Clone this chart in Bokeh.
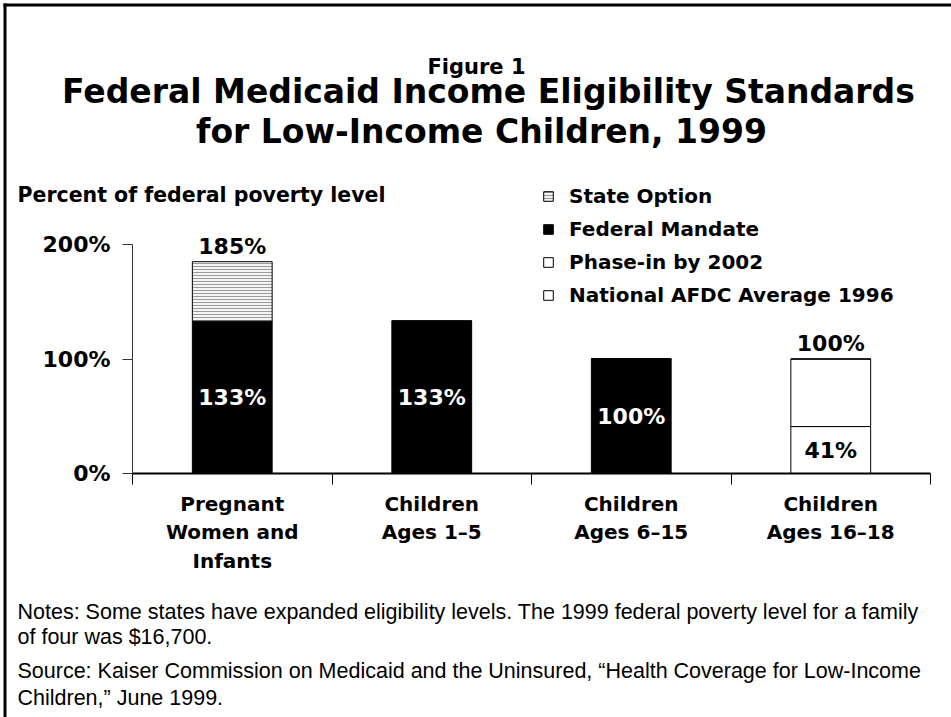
from bokeh.plotting import figure
from bokeh.models import (ColumnDataSource, FixedTicker, Label, LabelSet, Legend,
                          LegendItem, BoxAnnotation, Range1d)
from bokeh.core.properties import value
from bokeh.embed import file_html
from bokeh.resources import INLINE

# ---------------- data ----------------
categories = ["Pregnant\nWomen and\nInfants", "Children\nAges 1–5",
              "Children\nAges 6–15", "Children\nAges 16–18"]
federal_mandate = [133, 133, 100, 0]
afdc_average_1996 = [0, 0, 0, 41]
phase_in_2002 = [0, 0, 0, 59]
state_option = [52, 0, 0, 0]
inner_labels = ["133%", "133%", "100%", "41%"]
top_labels = ["185%", "", "", "100%"]
y_ticks = [0, 100, 200]
y_tick_labels = ["0%", "100%", "200%"]

title_small = "Figure 1"
title_lines = ["Federal Medicaid Income Eligibility Standards",
               "for Low-Income Children, 1999"]
y_caption = "Percent of federal poverty level"
notes = ["Notes: Some states have expanded eligibility levels. The 1999 federal poverty level for a family",
         "of four was $16,700.",
         "Source: Kaiser Commission on Medicaid and the Uninsured, \u201cHealth Coverage for Low-Income",
         "Children,\u201d June 1999."]

# ---------------- layout ----------------
W, H = 951, 717
AX_L, AX_R, AX_T, AX_B = 132, 930, 244, 473   # data area edges in canvas pixels
BOLD = "DejaVu Sans"
REG = "Liberation Sans"

n = len(categories)
y_max = 200
ppx = (AX_R - AX_L) / n
ppy = (AX_B - AX_T) / y_max
x_range = Range1d(-AX_L / ppx, n + (W - AX_R) / ppx)
y_range = Range1d(-(H - AX_B) / ppy, y_max + AX_T / ppy)

def sx(cx):
    return cx

def sy(cy):
    return H - cy

centers = [i + 0.5 for i in range(n)]

src = ColumnDataSource(dict(
    x=centers,
    federal_mandate=federal_mandate,
    afdc_average_1996=afdc_average_1996,
    phase_in_2002=phase_in_2002,
    state_option=state_option,
))

p = figure(width=W, height=H, output_backend="svg", toolbar_location=None,
           x_range=x_range, y_range=y_range, min_border=0)
p.outline_line_color = None
p.xgrid.visible = False
p.ygrid.visible = False
p.background_fill_color = "white"
p.border_fill_color = "white"

stack = ["federal_mandate", "afdc_average_1996", "phase_in_2002", "state_option"]
fills = ["black", "white", "white", "white"]
rs = p.vbar_stack(stack, x="x", width=0.4, source=src, color=fills,
                  line_color="black", line_width=1)
rs[3].glyph.hatch_pattern = "horizontal_line"
rs[3].glyph.hatch_color = "#9a9a9a"
rs[3].glyph.hatch_scale = 3
rs[3].glyph.hatch_weight = 1
rs[3].glyph.fill_color = "#f4f4f4"

# value labels
bottom_seg = [m + a for m, a in zip(federal_mandate, afdc_average_1996)]
totals = [m + a + ph + s for m, a, ph, s in zip(federal_mandate, afdc_average_1996,
                                                phase_in_2002, state_option)]
inner_src = ColumnDataSource(dict(
    x=centers, y=[b / 2 for b in bottom_seg], text=inner_labels,
    color=["white" if m > 0 else "black" for m in federal_mandate]))
p.add_layout(LabelSet(x="x", y="y", text="text", text_color="color", source=inner_src,
                      text_align="center", text_baseline="middle",
                      text_font=value(BOLD), text_font_style="bold",
                      text_font_size="22px"))
top_src = ColumnDataSource(dict(x=centers, y=totals, text=top_labels))
p.add_layout(LabelSet(x="x", y="y", text="text", source=top_src, y_offset=3,
                      text_align="center", text_baseline="bottom", text_color="black",
                      text_font=value(BOLD), text_font_style="bold",
                      text_font_size="22px"))

# axes
ya = p.yaxis[0]
ya.fixed_location = 0
ya.bounds = (0, y_max)
ya.ticker = FixedTicker(ticks=y_ticks)
ya.major_label_overrides = dict(zip(y_ticks, y_tick_labels))
ya.axis_line_color = "#333333"
ya.axis_line_width = 1
ya.major_tick_in = 0
ya.major_tick_out = 10
ya.major_tick_line_color = "#333333"
ya.minor_tick_line_color = None
ya.major_label_standoff = 12
ya.major_label_text_font = BOLD
ya.major_label_text_font_style = "bold"
ya.major_label_text_font_size = "22px"
ya.major_label_text_color = "black"

xa = p.xaxis[0]
xa.fixed_location = 0
xa.bounds = (0, n)
xa.ticker = FixedTicker(ticks=centers, minor_ticks=list(range(n + 1)))
xa.major_label_overrides = dict(zip(centers, categories))
xa.axis_line_color = "black"
xa.axis_line_width = 2
xa.major_tick_line_color = None
xa.major_tick_in = 0
xa.major_tick_out = 0
xa.minor_tick_in = 0
xa.minor_tick_out = 11
xa.minor_tick_line_color = "black"
xa.minor_tick_line_width = 1
xa.major_label_standoff = 7
xa.major_label_text_font = BOLD
xa.major_label_text_font_style = "bold"
xa.major_label_text_font_size = "20px"
xa.major_label_text_line_height = 1.2
xa.major_label_text_color = "black"

# legend
legend_names = {"state_option": "State Option", "federal_mandate": "Federal Mandate",
                "phase_in_2002": "Phase-in by 2002", "afdc_average_1996": "National AFDC Average 1996"}
order = ["state_option", "federal_mandate", "phase_in_2002", "afdc_average_1996"]
items = [LegendItem(label=legend_names[k], renderers=[rs[stack.index(k)]]) for k in order]
legend = Legend(items=items, location=(sx(542), sy(307)), orientation="vertical",
                glyph_width=12, glyph_height=12, label_standoff=15, spacing=9,
                label_height=24, padding=0, margin=0, border_line_color=None,
                background_fill_alpha=0,
                label_text_font=BOLD, label_text_font_style="bold",
                label_text_font_size="20px", label_text_color="black")
p.add_layout(legend, "center")

# header texts
def add_label(text, cx, cy, size, font=BOLD, style="bold", align="left"):
    p.add_layout(Label(x=sx(cx), y=sy(cy), x_units="screen", y_units="screen",
                       text=text, text_font=font, text_font_style=style,
                       text_font_size=size, text_align=align, text_baseline="middle",
                       text_color="black"))

add_label(title_small, 476, 66, "21px", align="center")
add_label(title_lines[0], 488, 91, "33px", align="center")
add_label(title_lines[1], 481, 131, "33px", align="center")
add_label(y_caption, 17, 194, "20.5px")
for txt, cy in zip(notes, [611, 636, 670, 697]):
    add_label(txt, 17, cy, "21.5px", font=REG, style="normal")

# outer frame lines (left and top)
p.add_layout(BoxAnnotation(left=sx(3), right=sx(6), bottom=sy(H + 5), top=sy(3),
                           left_units="screen", right_units="screen",
                           top_units="screen", bottom_units="screen",
                           fill_color="black", fill_alpha=1, line_color=None))
p.add_layout(BoxAnnotation(left=sx(3), right=sx(W + 5), bottom=sy(6), top=sy(3),
                           left_units="screen", right_units="screen",
                           top_units="screen", bottom_units="screen",
                           fill_color="black", fill_alpha=1, line_color=None))

open("out.html", "w").write(file_html(p, INLINE))
